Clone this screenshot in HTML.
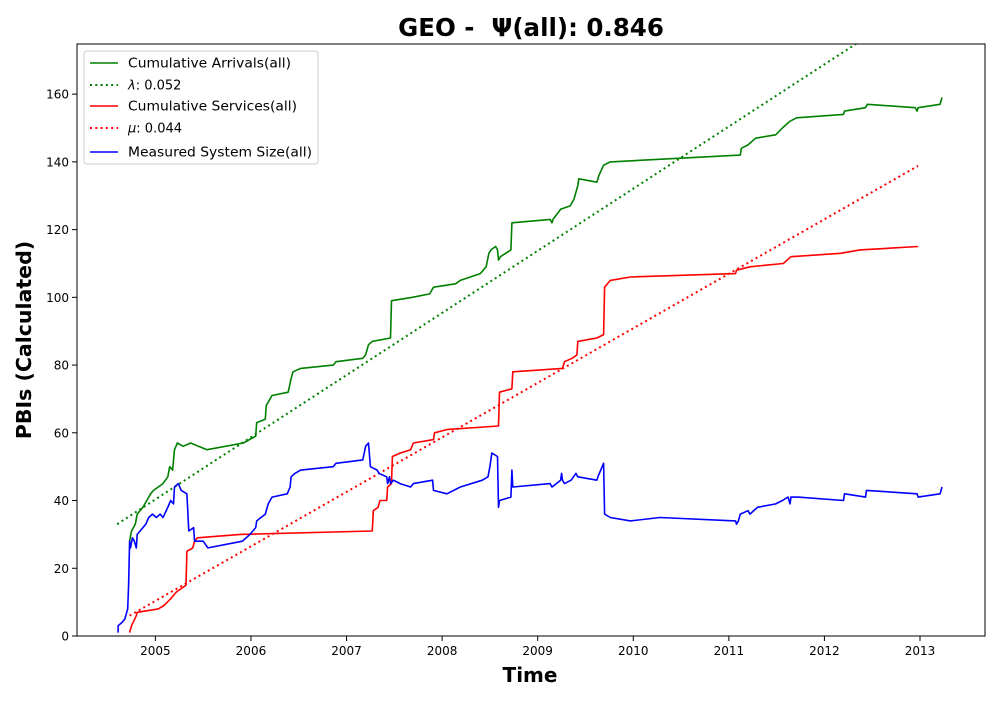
<!DOCTYPE html>
<html><head><meta charset="utf-8"><style>
body{margin:0;background:#fff;}
svg text{font-family:"DejaVu Sans","Liberation Sans",sans-serif;}
</style></head><body>
<svg id="chart" width="1000" height="700" xmlns="http://www.w3.org/2000/svg">
<rect width="1000" height="700" fill="#fff"/>
<g id="plot"></g>
<text x="531" y="36" text-anchor="middle" font-size="24.5" font-weight="bold">GEO -&#160; Ψ(all): 0.846</text>
<text x="530" y="682" text-anchor="middle" font-size="20" font-weight="bold">Time</text>
<text transform="translate(31,340) rotate(-90)" text-anchor="middle" font-size="20.5" font-weight="bold">PBIs (Calculated)</text>
<g>
<rect x="84" y="51" width="234" height="113" rx="3" fill="#fff" stroke="#ccc" stroke-width="1"/>
<g><line x1="90" y1="63" x2="118" y2="63" stroke="green" stroke-width="1.6"/><text x="128" y="67.5" font-size="13" textLength="163" lengthAdjust="spacingAndGlyphs">Cumulative Arrivals(all)</text></g>
<g><line x1="90" y1="85" x2="118" y2="85" stroke="green" stroke-width="2" stroke-dasharray="2,3.3"/><text x="128" y="89.5" font-size="13"><tspan font-style="italic">λ</tspan>: 0.052</text></g>
<g><line x1="90" y1="106" x2="118" y2="106" stroke="red" stroke-width="1.6"/><text x="128" y="110.5" font-size="13" textLength="169" lengthAdjust="spacingAndGlyphs">Cumulative Services(all)</text></g>
<g><line x1="90" y1="128" x2="118" y2="128" stroke="red" stroke-width="2" stroke-dasharray="2,3.3"/><text x="128" y="132.5" font-size="13"><tspan font-style="italic">μ</tspan>: 0.044</text></g>
<g><line x1="90" y1="152" x2="118" y2="152" stroke="blue" stroke-width="1.6"/><text x="128" y="156.5" font-size="13" textLength="184" lengthAdjust="spacingAndGlyphs">Measured System Size(all)</text></g>
</g>
</svg>
<script>
const xTicks=[2005,2006,2007,2008,2009,2010,2011,2012,2013];
const yTicks=[0,20,40,60,80,100,120,140,160];
const arrT=[2004.73,2004.75,2004.79,2004.81,2004.87,2004.91,2004.95,2004.98,2005.08,2005.13,2005.15,2005.18,2005.20,2005.23,2005.29,2005.37,2005.45,2005.54,2005.92,2006.05,2006.06,2006.15,2006.16,2006.22,2006.39,2006.42,2006.44,2006.52,2006.86,2006.89,2007.17,2007.20,2007.23,2007.27,2007.46,2007.47,2007.69,2007.87,2007.91,2008.14,2008.19,2008.40,2008.46,2008.49,2008.51,2008.56,2008.58,2008.59,2008.61,2008.72,2008.73,2009.13,2009.15,2009.16,2009.24,2009.34,2009.38,2009.42,2009.43,2009.62,2009.64,2009.69,2009.76,2011.12,2011.13,2011.20,2011.28,2011.49,2011.56,2011.64,2011.71,2012.20,2012.21,2012.43,2012.45,2012.95,2012.97,2012.98,2013.21,2013.23];
const arrV=[28,31,33,36,38,40,42,43,45,47,50,49,55,57,56,57,56,55,57,59,63,64,68,71,72,76,78,79,80,81,82,83,86,87,88,99,100,101,103,104,105,107,109,113,114,115,114,111,112,114,122,123,122,123,126,127,129,133,135,134,136,139,140,142,144,145,147,148,150,152,153,154,155,156,157,156,155,156,157,159];
const srvT=[2004.73,2004.75,2004.80,2004.81,2005.03,2005.09,2005.16,2005.19,2005.22,2005.27,2005.32,2005.33,2005.39,2005.41,2005.44,2005.89,2007.27,2007.28,2007.33,2007.35,2007.42,2007.43,2007.47,2007.48,2007.56,2007.67,2007.70,2007.91,2007.92,2008.06,2008.59,2008.60,2008.73,2008.74,2009.26,2009.28,2009.36,2009.41,2009.42,2009.62,2009.69,2009.70,2009.76,2009.97,2011.07,2011.08,2011.22,2011.57,2011.65,2012.17,2012.37,2012.98];
const srvV=[1,3,6,7,8,9,11,12,13,14,15,25,26,28,29,30,31,37,38,40,40,44,45,53,54,55,57,58,60,61,62,72,73,78,79,81,82,83,87,88,89,103,105,106,107,108,109,110,112,113,114,115];
const sysT=[2004.61,2004.61,2004.65,2004.68,2004.70,2004.71,2004.72,2004.73,2004.74,2004.76,2004.78,2004.80,2004.81,2004.84,2004.90,2004.93,2004.97,2005.01,2005.05,2005.08,2005.13,2005.16,2005.19,2005.20,2005.24,2005.27,2005.33,2005.35,2005.40,2005.41,2005.50,2005.55,2005.91,2005.99,2006.05,2006.06,2006.15,2006.18,2006.22,2006.38,2006.41,2006.42,2006.46,2006.52,2006.86,2006.89,2007.17,2007.20,2007.23,2007.25,2007.32,2007.34,2007.42,2007.43,2007.45,2007.46,2007.49,2007.56,2007.67,2007.70,2007.90,2007.91,2008.05,2008.19,2008.42,2008.48,2008.50,2008.52,2008.58,2008.59,2008.60,2008.72,2008.73,2008.74,2009.13,2009.15,2009.24,2009.25,2009.26,2009.28,2009.35,2009.40,2009.42,2009.62,2009.63,2009.69,2009.70,2009.76,2009.97,2010.28,2011.07,2011.08,2011.10,2011.12,2011.20,2011.22,2011.30,2011.49,2011.56,2011.62,2011.64,2011.65,2011.72,2012.20,2012.21,2012.43,2012.44,2012.97,2012.98,2013.21,2013.23];
const sysV=[1,3,4,5,7,8,15,28,26,29,28,26,30,31,33,35,36,35,36,35,38,40,39,44,45,43,42,31,32,28,28,26,28,30,32,34,36,39,41,42,44,47,48,49,50,51,52,56,57,50,49,48,47,45,47,45,46,45,44,45,46,43,42,44,46,47,50,54,53,38,40,41,49,44,45,44,46,48,46,45,46,48,47,46,47,51,36,35,34,35,34,33,34,36,37,36,38,39,40,41,39,41,41,40,42,41,43,42,41,42,44];
const lambdaPerYear=18.35, muPerYear=16.1;
const lambdaStart=[2004.60,33], muStart=[2004.73,6], rateEnd=2012.98;

const X0=77,X1=985,Y0=44,Y1=636;
const xMin=2004.18,xMax=2013.68,yMin=0,yMax=174.8;
const sx=t=>X0+(t-xMin)/(xMax-xMin)*(X1-X0);
const sy=v=>Y1-(v-yMin)/(yMax-yMin)*(Y1-Y0);
const NS='http://www.w3.org/2000/svg';
const plot=document.getElementById('plot');
function mk(tag,attrs,parent){const e=document.createElementNS(NS,tag);for(const k in attrs)e.setAttribute(k,attrs[k]);(parent||plot).appendChild(e);return e;}
const defs=mk('defs',{});
const cp=mk('clipPath',{id:'clip'},defs);
mk('rect',{x:X0,y:Y0,width:X1-X0,height:Y1-Y0},cp);
const g=mk('g',{'clip-path':'url(#clip)'});
function line(ts,vs,color,name){
  const p=mk('polyline',{points:ts.map((t,i)=>sx(t).toFixed(1)+','+sy(vs[i]).toFixed(1)).join(' '),fill:'none',stroke:color,'stroke-width':1.6,'stroke-linejoin':'round'},g);
  
  
}
function rate(start,r,color,name){
  const v2=start[1]+r*(rateEnd-start[0]);
  const p=mk('line',{x1:sx(start[0]),y1:sy(start[1]),x2:sx(rateEnd),y2:sy(v2),stroke:color,'stroke-width':2,'stroke-dasharray':'2,3.3'},g);
  
  
}
rate(lambdaStart,lambdaPerYear,'green','lambda-line');
rate(muStart,muPerYear,'red','mu-line');
line(arrT,arrV,'green','cumulative-arrivals-line');
line(srvT,srvV,'red','cumulative-services-line');
line(sysT,sysV,'blue','system-size-line');
const frame=mk('rect',{x:X0,y:Y0,width:X1-X0,height:Y1-Y0,fill:'none',stroke:'#000','stroke-width':1});


xTicks.forEach(t=>{
  const x=sx(t);
  const tk=mk('line',{x1:x,y1:Y1,x2:x,y2:Y1+5,stroke:'#000'});
  
  
  const lb=mk('text',{x:x,y:Y1+19,'text-anchor':'middle','font-size':12});
  lb.textContent=t;
  
  
});
yTicks.forEach(v=>{
  const y=sy(v);
  const tk=mk('line',{x1:X0-5,y1:y,x2:X0,y2:y,stroke:'#000'});
  
  
  const lb=mk('text',{x:X0-8,y:y+4.5,'text-anchor':'end','font-size':12});
  lb.textContent=v;
  
  
});
</script>
</body></html>
